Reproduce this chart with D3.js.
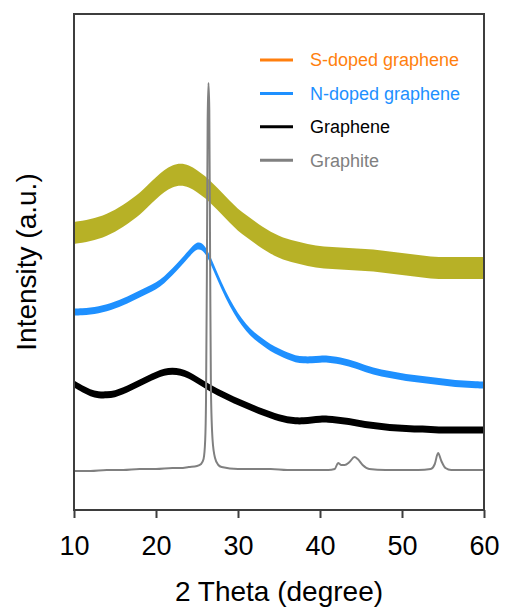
<!DOCTYPE html>
<html lang="en">
<head>
    <meta charset="UTF-8">
    <title>XRD patterns</title>
    <style>
        body { margin: 0; background: #fff; }
        text { font-family: "Liberation Sans", Arial, sans-serif; }
    </style>
</head>
<body>
    <div id="chart"></div>
    <script src="https://d3js.org/d3.v7.min.js"></script>
    <script>
        // 2 theta grid (degree) used by the three broad patterns
        const theta = d3.range(10, 61, 1)

        // intensities (a.u., already offset)
        const sDoped = [277,278,280,282,285,289,294,300,306,314,
                        322,329,334,336,334,329,323,315,307,298,
                        290,284,278,272,267,263,260,258,256,254,
                        253,252,252,251,251,250,250,249,248,247,
                        246,245,244,243,242,242,242,242,242,242,
                        242]
        const nDoped = [198,198,199,200,202,205,208,212,216,220,
                        224,230,238,247,256,266,262,243,224,207,
                        193,182,174,168,162,158,154,151,150,150,
                        151,151,150,148,146,143,140,138,136,135,
                        133,132,131,130,129,128,127,126,126,125,
                        125]
        const graphene = [126,121,117,115,115,116,119,123,127,131,
                          135,138,139,138,135,130,125,120,116,112,
                          108,105,101,98,95,92,90,89,89,90,
                          91,91,90,89,88,86,85,84,83,82,
                          82,81,81,81,80,80,80,80,80,80,
                          80]

        // graphite has its own, denser sampling round the (002) peak
        const graphiteTheta = [10,12,14,16,18,20,22,23,24,25,
                               25.5,25.8,26.0,26.1,26.2,26.3,26.4,26.5,26.6,26.7,
                               26.9,27.2,27.6,28,30,32,34,36,38,40,
                               41,41.8,42.2,42.6,43,43.6,44.2,44.6,45.2,46,
                               48,50,52,53.5,54.0,54.4,54.8,55.3,56,58,
                               60]
        const graphite = [39,39,40,40,41,41,42,42,43,44,
                          46,51,70,110,230,390,427,400,250,120,
                          70,52,45,43,41,41,41,40,40,40,
                          40,41,47,45,45,48,53,51,45,41,
                          40,40,40,41,46,57,49,42,40,40,
                          40]

        // half width of the noise band of each pattern (a.u.)
        const noiseBand = [11, 3.5, 3.5]

        const legendLabels = ["S-doped graphene", "N-doped graphene", "Graphene", "Graphite"]
        const legendColors = ["#ff7f0e", "#1e90ff", "#000000", "#808080"]
        const xTicks = [10, 20, 30, 40, 50, 60]

        const [width, height] = [505, 610]
        const margin = {left: 74, right: 21, top: 14, bottom: 100}

        var svg = d3.select('#chart').append('svg')
            .attr('width', width)
            .attr('height', height)

        var x = d3.scaleLinear()
            .domain([10, 60])
            .range([margin.left, width - margin.right])
        var y = d3.scaleLinear()
            .domain([0, 496])
            .range([height - margin.bottom, margin.top])

        svg.append('clipPath').attr('id', 'plot')
            .append('rect')
            .attr('x', x(10)).attr('y', y(496))
            .attr('width', x(60) - x(10)).attr('height', y(0) - y(496))

        var g = svg.append('g').attr('clip-path', 'url(#plot)')

        var broad = [
            {values: sDoped, color: '#aaa300', band: noiseBand[0], op: 0.85},
            {values: nDoped, color: '#1e90ff', band: noiseBand[1], op: 1},
            {values: graphene, color: '#000000', band: noiseBand[2], op: 1}
        ]

        broad.forEach(function (s) {
            var pts = theta.map((t, i) => [t, s.values[i]])
            var area = d3.area()
                .x(d => x(d[0]))
                .y0(d => y(d[1] - s.band))
                .y1(d => y(d[1] + s.band))
                .curve(d3.curveBasis)
            g.append('path')
                .datum(pts)
                .attr('d', area)
                .attr('fill', s.color)
                .attr('opacity', s.op)
        })

        var graphitePts = graphiteTheta.map((t, i) => [t, graphite[i]])
        g.append('path')
            .datum(graphitePts)
            .attr('d', d3.line().x(d => x(d[0])).y(d => y(d[1])).curve(d3.curveMonotoneX))
            .attr('fill', 'none')
            .attr('stroke', '#808080')
            .attr('stroke-width', 2)

        // frame
        svg.append('rect')
            .attr('x', x(10)).attr('y', y(496))
            .attr('width', x(60) - x(10)).attr('height', y(0) - y(496))
            .attr('fill', 'none')
            .attr('stroke', '#3d3d3d')
            .attr('stroke-width', 2)

        var xAxis = svg.append('g')
            .attr('transform', 'translate(0,' + y(0) + ')')
            .call(d3.axisBottom(x).tickValues(xTicks).tickSize(8).tickSizeOuter(0).tickPadding(18))
        xAxis.select('.domain').remove()
        xAxis.selectAll('.tick line').attr('stroke', '#3d3d3d').attr('stroke-width', 2)
        xAxis.selectAll('.tick text')
            .attr('fill', '#000')
            .style('font-size', '27px')
            .style('font-family', '"Liberation Sans", Arial, sans-serif')

        svg.append('text')
            .attr('x', (x(10) + x(60)) / 2)
            .attr('y', 601)
            .attr('text-anchor', 'middle')
            .style('font-size', '28px')
            .text('2 Theta (degree)')

        svg.append('text')
            .attr('transform', 'translate(36,' + (y(0) + y(496)) / 2 + ') rotate(-90)')
            .attr('text-anchor', 'middle')
            .style('font-size', '28px')
            .text('Intensity (a.u.)')

        // legend
        var legend = svg.append('g')
        legendLabels.forEach(function (label, i) {
            var ly = 60 + i * 33.4
            legend.append('line')
                .attr('x1', 260).attr('x2', 293)
                .attr('y1', ly).attr('y2', ly)
                .attr('stroke', legendColors[i])
                .attr('stroke-width', 3)
            legend.append('text')
                .attr('x', 310).attr('y', ly)
                .attr('dy', '0.35em')
                .attr('fill', legendColors[i])
                .style('font-size', '18px')
                .text(label)
        })
    </script>
</body>
</html>
